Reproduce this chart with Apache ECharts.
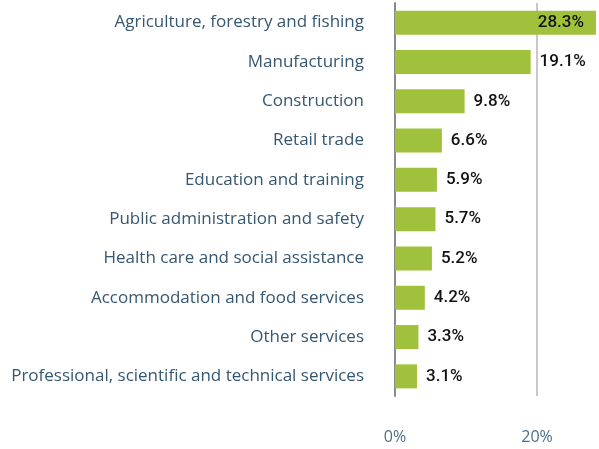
<!DOCTYPE html>
<html>
<head>
<meta charset="utf-8">
<script src="https://cdn.jsdelivr.net/npm/echarts@6/dist/echarts.min.js"></script>
<style>
  html, body { margin: 0; padding: 0; background: #fff; }
  #chart { width: 599px; height: 449px; }
</style>
</head>
<body>
<div id="chart"></div>
<script>
// industries, top to bottom
const industries = [
  "Agriculture, forestry and fishing",
  "Manufacturing",
  "Construction",
  "Retail trade",
  "Education and training",
  "Public administration and safety",
  "Health care and social assistance",
  "Accommodation and food services",
  "Other services",
  "Professional, scientific and technical services"
];
const shares = [28.3, 19.1, 9.8, 6.6, 5.9, 5.7, 5.2, 4.2, 3.3, 3.1];
const gridMarks = [20];

const chart = echarts.init(document.getElementById("chart"));

const option = {
  backgroundColor: "#fff",
  animation: false,
  grid: {
    left: 395,
    top: 3,
    right: 0,
    height: 393
  },
  xAxis: {
    type: "value",
    min: 0,
    max: 28.73,
    interval: 20,
    axisLine: { show: false },
    axisTick: { show: false },
    axisLabel: {
      showMaxLabel: false,
      margin: 33,
      color: "#4d6f87",
      fontFamily: "Open Sans",
      fontSize: 16,
      formatter: (v) => v + "%"
    },
    splitLine: { show: false }
  },
  yAxis: {
    type: "category",
    data: industries,
    inverse: true,
    axisTick: { show: false },
    axisLine: { lineStyle: { color: "#8a8a8a", width: 2 } },
    axisLabel: {
      margin: 31,
      color: "#355771",
      fontFamily: "Open Sans",
      fontSize: 17
    }
  },
  series: [
    {
      type: "bar",
      data: shares.map((v, i) => ({
        value: v,
        label: i === 0 ? { position: "insideRight", distance: 12 } : {}
      })),
      barWidth: 24,
      itemStyle: { color: "#9fc13b" },
      label: {
        show: true,
        position: "right",
        distance: 9,
        color: "#111",
        fontFamily: "Roboto",
        fontWeight: 500,
        fontSize: 17,
        formatter: (p) => p.value.toFixed(1) + "%"
      },
      // gridline at 20% drawn behind the bars
      markLine: {
        silent: true,
        z: 1,
        symbol: "none",
        label: { show: false },
        lineStyle: { color: "#c8c8c8", width: 2, type: "solid" },
        data: gridMarks.map((v) => ({ xAxis: v }))
      },
      z: 3
    }
  ]
};

chart.setOption(option);
</script>
</body>
</html>
